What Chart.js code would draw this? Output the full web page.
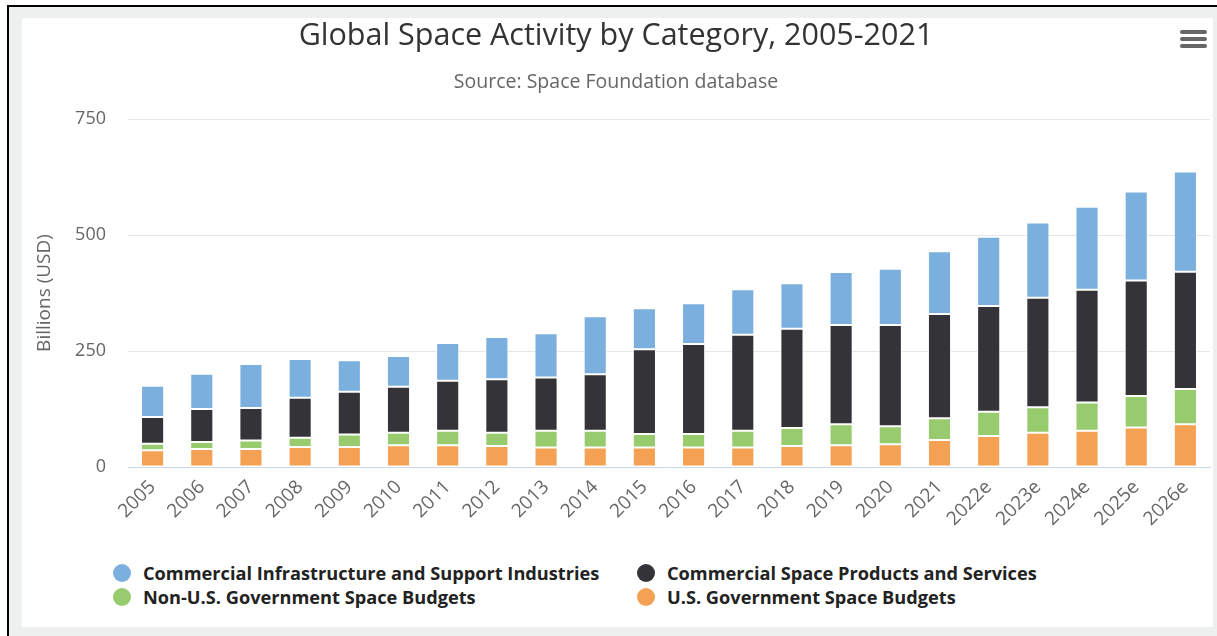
<!DOCTYPE html>
<html>
<head>
<meta charset="utf-8">
<script src="https://cdn.jsdelivr.net/npm/chart.js@4"></script>
<style>
  html, body { margin: 0; padding: 0; background: #fff; }
  body { width: 1217px; height: 636px; position: relative; overflow: hidden; font-family: 'Open Sans', sans-serif; }
  #frame {
    position: absolute; left: 7px; top: 5px; width: 1210px; height: 631px;
    background: #eef0ef; border-left: 2px solid #000; border-top: 2px solid #000;
  }
  #panel { position: absolute; left: 22px; top: 18px; width: 1191px; height: 609px; background: #fff; }
  #chartBox { position: absolute; left: 22px; top: 18px; width: 1191px; height: 535px; }
  #menu { position: absolute; left: 1180px; top: 30px; width: 27px; height: 18px; }
  #menu span { display: block; height: 4px; margin-bottom: 3px; background: #666; border-radius: 2px; }
  #legend {
    position: absolute; left: 113px; top: 563px;
    display: grid; grid-template-columns: 524px auto; row-gap: 4px;
  }
  .item { display: flex; align-items: center; height: 20px; }
  .dot { width: 18px; height: 18px; border-radius: 50%; margin-right: 12px; flex: none; }
  .lbl { font-family: 'Open Sans', sans-serif; font-weight: bold; font-size: 18.2px; color: #222; white-space: nowrap; }
</style>
</head>
<body>
<div id="frame"></div>
<div id="panel"></div>
<div id="chartBox"><canvas id="chart" width="1191" height="535"></canvas></div>
<div id="menu"><span></span><span></span><span></span></div>
<div id="legend"></div>
<script>
// Year categories (e = estimate)
const years = ['2005','2006','2007','2008','2009','2010','2011','2012','2013','2014','2015',
               '2016','2017','2018','2019','2020','2021','2022e','2023e','2024e','2025e','2026e'];

// Billions of USD per category
const usGovBudgets     = [36, 39, 39, 43, 43, 47, 47, 45, 42, 42, 42, 42, 42, 45, 47, 49, 58, 67, 74, 78, 85, 92];
const nonUsGovBudgets  = [14, 15, 18, 20, 27, 27, 31, 29, 36, 36, 29, 29, 36, 39, 45, 39, 47, 52, 55, 61, 68, 76];
const commProducts     = [58, 71, 70, 86, 92, 99, 108, 115, 115, 122, 183, 194, 207, 214, 214, 218, 225, 228, 236, 243, 249, 253];
const commInfra        = [67, 76, 95, 84, 68, 66, 81, 91, 95, 125, 88, 88, 98, 98, 114, 121, 135, 149, 162, 179, 192, 216];

const yTicks = [0, 250, 500, 750];

const seriesNames = [
  'U.S. Government Space Budgets',
  'Non-U.S. Government Space Budgets',
  'Commercial Space Products and Services',
  'Commercial Infrastructure and Support Industries'
];
const seriesColors = ['#f5a153', '#98cb6e', '#343438', '#7bb0de'];
const seriesValues = [usGovBudgets, nonUsGovBudgets, commProducts, commInfra];

const datasets = seriesValues.map((vals, i) => ({
  label: seriesNames[i],
  data: vals,
  backgroundColor: seriesColors[i],
  borderColor: '#ffffff',
  borderWidth: 1,
  borderSkipped: false,
  categoryPercentage: 1,
  barPercentage: 0.47
}));

const chart = new Chart(document.getElementById('chart'), {
  type: 'bar',
  data: { labels: years, datasets },
  options: {
    responsive: false,
    devicePixelRatio: 1,
    animation: false,
    layout: { padding: { left: 0, right: 3, top: 0, bottom: 0 } },
    plugins: {
      legend: { display: false },
      tooltip: { enabled: false },
      title: {
        display: true,
        text: 'Global Space Activity by Category, 2005-2021',
        color: '#333333',
        font: { family: 'Open Sans', size: 30.5, weight: 'normal' },
        padding: { top: 0, bottom: 8 }
      },
      subtitle: {
        display: true,
        text: 'Source: Space Foundation database',
        color: '#666666',
        font: { family: 'Open Sans', size: 19.5, weight: 'normal' },
        padding: { top: 8, bottom: 25 }
      }
    },
    scales: {
      x: {
        stacked: true,
        grid: { display: false, drawTicks: false },
        border: { display: true, color: '#ccd6eb', width: 1 },
        ticks: {
          color: '#666666',
          font: { family: 'Open Sans', size: 19 },
          maxRotation: 45, minRotation: 45,
          padding: 9,
          autoSkip: false
        },
        afterFit: s => { s.height = 86; }
      },
      y: {
        stacked: true,
        min: 0, max: 750,
        afterBuildTicks: s => { s.ticks = yTicks.map(v => ({ value: v })); },
        grid: { color: '#e6e6e6', drawTicks: false, lineWidth: 1 },
        border: { display: false },
        ticks: {
          color: '#666666',
          font: { family: 'Open Sans', size: 18 },
          padding: 22
        },
        title: {
          display: true,
          text: 'Billions (USD)',
          color: '#666666',
          font: { family: 'Open Sans', size: 19, weight: 'normal' },
          padding: { top: 11.6, bottom: 0 }
        },
        afterFit: s => { s.width = 106; }
      }
    }
  }
});

// Legend in two columns, listed top series first
const legend = document.getElementById('legend');
[3, 2, 1, 0].forEach(i => {
  const ds = chart.data.datasets[i];
  const item = document.createElement('div');
  item.className = 'item';
  const dot = document.createElement('span');
  dot.className = 'dot';
  dot.style.background = ds.backgroundColor;
  const lbl = document.createElement('span');
  lbl.className = 'lbl';
  lbl.textContent = ds.label;
  item.appendChild(dot);
  item.appendChild(lbl);
  legend.appendChild(item);
});
</script>
</body>
</html>
